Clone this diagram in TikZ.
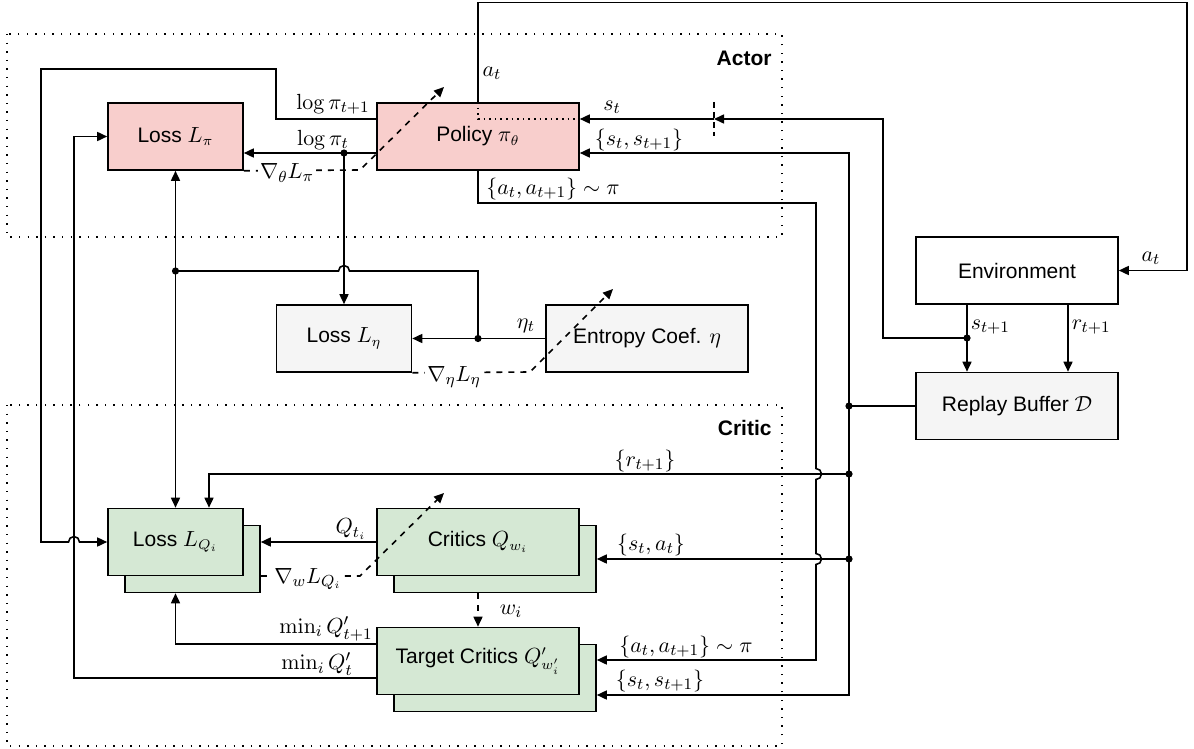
\documentclass[tikz,border=0pt]{standalone}
\usepackage{amsmath,amssymb}
\usepackage[no-math]{fontspec}
\setmainfont{Liberation Sans}
\usepackage{tikz}
\usetikzlibrary{arrows.meta,positioning,calc}

\definecolor{actorfill}{HTML}{F8CECC}
\definecolor{criticfill}{HTML}{D5E8D4}
\definecolor{greyfill}{HTML}{F5F5F5}

\begin{document}
\begin{tikzpicture}[
    x=0.5pt, y=-0.5pt, line width=0.8pt,
    box/.style={draw, minimum width=67.5pt, minimum height=33.5pt, inner sep=1pt, font=\fontsize{10.5}{12}\selectfont},
    widebox/.style={box, minimum width=101pt},
    arr/.style={-{Triangle[length=5pt,width=4.5pt]}},
    grad/.style={arr, dashed},
    lbl/.style={font=\fontsize{11}{13}\selectfont, inner sep=1pt},
    groupframe/.style={dash pattern=on 0.7pt off 3.6pt, line width=0.7pt},
    grouptitle/.style={anchor=east, font=\fontsize{10.5}{12}\selectfont\bfseries}
]
    \useasboundingbox (0,0) rectangle (1194,749);

    % Actor and critic groups
    \draw[groupframe] (7,34) rectangle (782,237);
    \node[grouptitle] (actor) at (779,58) {Actor};
    \draw[groupframe] (7,405) rectangle (782,746);
    \node[grouptitle] (critic) at (779,428) {Critic};

    % Blocks
    \node[box, fill=actorfill] (lossp) at (175.5,136.5) {Loss $L_\pi$};
    \node[widebox, fill=actorfill] (policy) at (478,136.5) {Policy $\pi_\theta$};
    \node[box, fill=greyfill] (losse) at (344,338.5) {Loss $L_\eta$};
    \node[widebox, fill=greyfill] (entropy) at (647,338.5) {Entropy Coef. $\eta$};
    \node[widebox] (env) at (1017,270.5) {Environment};
    \node[widebox, fill=greyfill] (buffer) at (1017,406) {Replay Buffer $\mathcal{D}$};

    % Stacked critic blocks (back copy first)
    \node[box, fill=criticfill] (lossq-b) at (192.5,559) {};
    \node[box, fill=criticfill] (lossq) at (175.5,542) {Loss $L_{Q_i}$};
    \node[widebox, fill=criticfill] (critics-b) at (495,559) {};
    \node[widebox, fill=criticfill] (critics) at (478,542) {Critics $Q_{w_i}$};
    \node[widebox, fill=criticfill] (target-b) at (495,678) {};
    \node[widebox, fill=criticfill] (target) at (478,661) {Target Critics $Q'_{w'_i}$};

    % Junctions
    \coordinate (dlp) at (344,153);
    \coordinate (deta) at (478,338.5);
    \coordinate (jeta) at (175.5,271);
    \coordinate (js) at (967,338);
    \coordinate (tick) at (714,119);
    \coordinate (jbuf) at (849,406);
    \coordinate (jr) at (849,474);
    \coordinate (jsa) at (849,559);

    % Policy outputs
    \draw[arr] (policy.west |- dlp) -- (lossp.east |- dlp);
    \draw[arr] (dlp) -- (losse.north);
    \draw[arr] (policy.west |- 0,119) -- (276,119) |- (41,69) -- (41,542)
        -- (68.5,542) arc[start angle=180, end angle=0, radius=2.75pt] -- (lossq.west);

    % Target critic outputs
    \draw[arr] (target.west |- 0,678) -| (74,136.5) -- (lossp.west);
    \draw[arr] (target.west |- 0,644) -| (lossq.south |- lossq-b.south);

    % Entropy coefficient
    \draw[arr] (entropy.west) -- (losse.east);
    \draw (deta) -- (478,271) -- (349.5,271) arc[start angle=0, end angle=180, radius=2.75pt] -- (jeta);
    \draw[arr] (jeta) -- (lossp.south);
    \draw[arr] (jeta) -- (lossq.north);

    % Gradient updates
    \draw[grad] (lossp.south east) -- (360,170) -- (444,87);
    \draw[grad] (losse.south east) -- (530,372) -- (613,289);
    \draw[grad] (lossq-b.east |- 0,576) -- (360,576) -- (444,493);
    \draw[grad] (critics.south |- critics-b.south) -- (target.north);
    \draw[arr] (critics.west) -- (critics.west -| lossq-b.east);

    % Environment loop
    \draw[arr] (policy.north) -- (478,2.5) -| (1187,270.5) -- (env.east);
    \draw[dotted] (policy.north) -- (478,119) -- (policy.east |- 0,119);
    \draw[arr] (env.south -| js) -- (buffer.north -| js);
    \draw[arr] (env.south -| 1068,0) -- (buffer.north -| 1068,0);
    \draw[arr] (js) -| (883,119) -- (tick);
    \draw[arr] (tick) -- (policy.east |- tick);
    \draw[densely dashed] (714,102) -- (714,136);

    % Replay buffer samples
    \draw (buffer.west) -- (jbuf);
    \draw[arr] (jbuf) |- (policy.east |- 0,153);
    \draw[arr] (jbuf) |- (target-b.east |- 0,695);
    \draw[arr] (jr) -| (lossq.north -| 209,0);
    \draw[arr] (jsa) -- (critics-b.east);
    \draw[arr] (policy.south) -- (478,203) -- (816,203) -- (816,468.5)
        arc[start angle=90, end angle=-90, radius=2.75pt] -- (816,553.5)
        arc[start angle=90, end angle=-90, radius=2.75pt] -- (816,660) -- (target-b.east |- 0,660);

    \foreach \p in {dlp,deta,jeta,js,jbuf,jr,jsa} \fill (\p) circle (1.8pt);

    % Labels
    \node[lbl] (l-logpi1) at (333,104) {$\log\pi_{t+1}$};
    \node[lbl] (l-logpi) at (323,140) {$\log\pi_t$};
    \node[lbl, fill=white] (l-gradpi) at (287,173) {$\nabla_\theta L_\pi$};
    \node[lbl] (l-at) at (492,73) {$a_t$};
    \node[lbl] (l-st) at (612,107) {$s_t$};
    \node[lbl] (l-sst) at (639,140) {$\{s_t,s_{t+1}\}$};
    \node[lbl] (l-aat) at (553,189) {$\{a_t,a_{t+1}\}\sim\pi$};
    \node[lbl] (l-eta) at (526,326) {$\eta_t$};
    \node[lbl, fill=white] (l-grade) at (454,377) {$\nabla_\eta L_\eta$};
    \node[lbl] (l-at2) at (1151,258) {$a_t$};
    \node[lbl, anchor=west] (l-s1) at (968,327) {$s_{t+1}$};
    \node[lbl, anchor=west] (l-r1) at (1069,327) {$r_{t+1}$};
    \node[lbl] (l-r) at (645,461) {$\{r_{t+1}\}$};
    \node[lbl] (l-sa) at (651,545) {$\{s_t,a_t\}$};
    \node[lbl] (l-aat2) at (686,647) {$\{a_t,a_{t+1}\}\sim\pi$};
    \node[lbl] (l-sst2) at (660,681) {$\{s_t,s_{t+1}\}$};
    \node[lbl] (l-q) at (351,529) {$Q_{t_i}$};
    \node[lbl, fill=white] (l-gradq) at (308,579) {$\nabla_w L_{Q_i}$};
    \node[lbl] (l-w) at (511,611) {$w_i$};
    \node[lbl] (l-minq1) at (326,629) {$\min_i Q'_{t+1}$};
    \node[lbl] (l-minq) at (317,664) {$\min_i Q'_t$};
\end{tikzpicture}
\end{document}
